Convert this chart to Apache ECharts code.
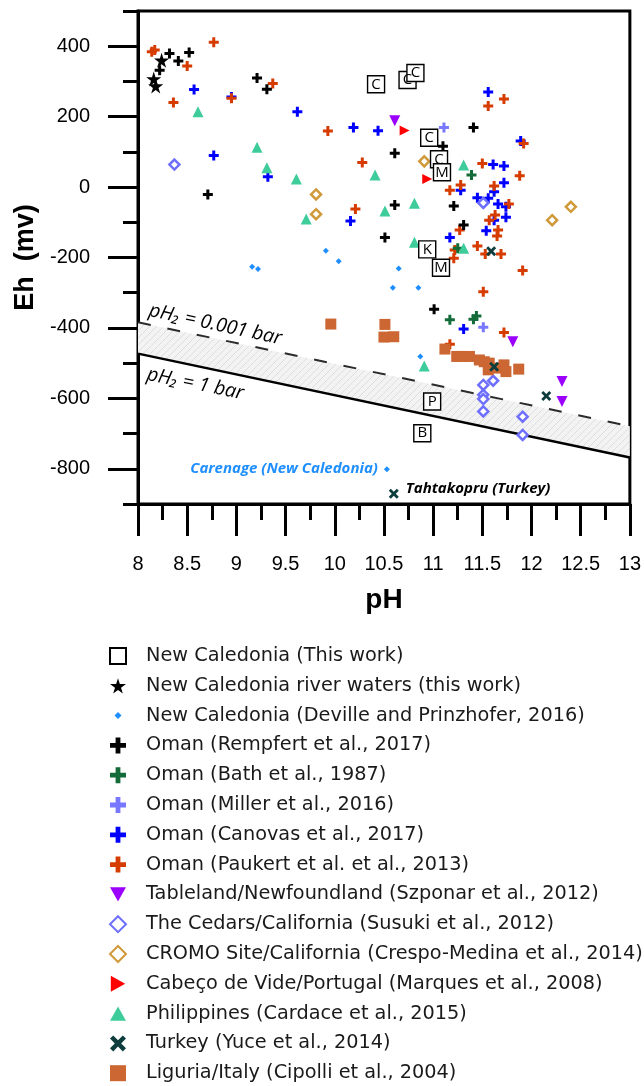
<!DOCTYPE html>
<html>
<head>
<meta charset="utf-8">
<script src="https://cdn.jsdelivr.net/npm/echarts@6/dist/echarts.min.js"></script>
<style>
html, body { margin: 0; padding: 0; background: #fff; }
#chart { width: 644px; height: 1086px; }
</style>
</head>
<body>
<div id="chart"></div>
<script>
// [pH, Eh (mV)]
const thisWork = [
    [10.42, 292, 'C'], [10.74, 304, 'C'], [10.82, 324, 'C'],
    [10.96, 140, 'C'], [11.06, 79, 'C'], [11.09, 42, 'M'],
    [10.94, -177, 'K'], [11.08, -229, 'M'],
    [10.99, -609, 'P'], [10.89, -699, 'B'],
];
const riverWaters = [[8.24, 360], [8.16, 307], [8.18, 287]];
const deville = [
    [9.16, -226], [9.22, -233], [9.91, -181], [10.04, -211], [10.65, -231],
    [10.59, -286], [10.85, -286], [10.87, -481],
];
const carenage = [10.53, -801];
const rempfert = [
    [8.32, 379], [8.52, 382], [8.41, 358], [8.22, 332], [9.21, 310], [9.31, 278],
    [8.71, -21], [10.61, 96], [11.10, 116], [11.41, 169], [11.21, -54], [11.31, -108],
    [10.51, -143], [10.61, -51], [11.01, -347],
];
const bath = [[11.39, 34], [11.25, -174], [11.17, -377], [11.44, -366], [11.41, -375]];
const miller = [[11.11, 169], [11.51, -398]];
const canovas = [
    [8.57, 277], [8.95, 256], [9.62, 214], [8.77, 90], [9.32, 29], [10.19, 169],
    [10.44, 160], [10.16, -96], [11.56, 270], [11.89, 131], [11.61, 64], [11.72, 60],
    [11.72, 12], [11.28, -9], [11.62, -13], [11.45, -30], [11.56, -32], [11.66, -48],
    [11.74, -56], [11.74, -86], [11.62, -94], [11.54, -124], [11.17, -143], [11.31, -403],
];
const paukert = [
    [8.14, 384], [8.17, 389], [8.77, 411], [8.50, 344], [9.37, 294], [8.36, 240],
    [8.95, 252], [9.93, 159], [10.28, 70], [10.21, -62], [11.50, 67], [11.88, 32],
    [11.92, 124], [11.56, 230], [11.72, 250], [11.28, 6], [11.17, -9], [11.62, 3],
    [11.77, -48], [11.66, -122], [11.65, -139], [11.27, -122], [11.45, -167],
    [11.53, -190], [11.69, -190], [11.57, -94], [11.63, -79], [11.91, -237],
    [11.51, -297], [11.21, -202], [11.22, -179], [11.17, -446], [11.72, -413],
];
const tableland = [[10.61, 188], [11.81, -439], [12.31, -552], [12.31, -609]];
const cedars = [
    [8.37, 64], [11.51, -45], [11.51, -562], [11.61, -550], [11.51, -590],
    [11.51, -602], [11.51, -637], [11.91, -652], [11.91, -704],
];
const cromo = [[10.91, 73], [9.81, -21], [9.81, -77], [12.40, -56], [12.21, -94]];
const cabeco = [[10.71, 161], [10.94, 23]];
const philippines = [
    [8.61, 214], [9.21, 113], [9.31, 55], [9.61, 23], [9.71, -91], [10.41, 34],
    [10.51, -68], [10.81, -46], [10.81, -157], [11.31, 63], [11.31, -174], [10.91, -508],
];
const turkey = [[11.59, -182], [11.62, -510], [12.15, -593]];
const tahtakopru = [10.60, -871];
const liguria = [
    [9.96, -389], [10.51, -390], [10.50, -426], [10.60, -425], [11.12, -460],
    [11.24, -481], [11.29, -481], [11.37, -481], [11.47, -491], [11.52, -496],
    [11.57, -500], [11.56, -519], [11.66, -514], [11.72, -505], [11.74, -524],
    [11.87, -517],
];
// H2 equilibrium lines
const h2OneBar = [[8, -473], [13, -768]];
const h2MilliBar = [[8, -384], [13, -679]];

const yMajorTicks = [-800, -600, -400, -200, 0, 200, 400];

const PLUS = 'path://M3.5,0H6.5V3.5H10V6.5H6.5V10H3.5V6.5H0V3.5H3.5Z';
const CROSS = 'path://M0,2L2,0L5,3L8,0L10,2L7,5L10,8L8,10L5,7L2,10L0,8L3,5Z';
const STAR = 'path://M50,0L61,35L98,35L68,57L79,91L50,70L21,91L32,57L2,35L39,35Z';
const TRI_DOWN = 'path://M0,0L10,0L5,9Z';
const TRI_RIGHT = 'path://M0,0L9,5L0,10Z';
const TRI_UP = 'path://M5,0L10,9L0,9Z';
const FONT = 'Liberation Sans';
const LEGEND_FONT = 'DejaVu Sans';
const NOTE_FONT = 'Open Sans';

// light hatch for the band between the two H2 lines
function hatch() {
    const c = document.createElement('canvas');
    c.width = 7; c.height = 7;
    const g = c.getContext('2d');
    g.fillStyle = '#f3f3f3';
    g.fillRect(0, 0, 7, 7);
    g.strokeStyle = '#dedede';
    g.lineWidth = 1;
    g.beginPath();
    g.moveTo(-1, 8); g.lineTo(8, -1);
    g.stroke();
    return { image: c, repeat: 'repeat' };
}

function scatter(name, data, symbol, size, color, extra) {
    return Object.assign({
        name,
        type: 'scatter',
        data,
        symbol,
        symbolSize: size,
        itemStyle: { color, opacity: 1 },
    }, extra || {});
}

const chart = echarts.init(document.getElementById('chart'));
const bandFill = hatch();

const option = {
    animation: false,
    grid: {
        left: 138, right: 11, top: 11, bottom: 582,
        show: true, borderColor: '#000', borderWidth: 3,
    },
    xAxis: [
        {
            type: 'value', min: 8, max: 13, interval: 0.5, position: 'bottom',
            name: 'pH', nameLocation: 'middle', nameGap: 82,
            nameTextStyle: { fontFamily: FONT, fontWeight: 'bold', fontSize: 28, color: '#000' },
            axisLine: { onZero: false, lineStyle: { color: '#000', width: 3 } },
            axisTick: { inside: false, length: 32, lineStyle: { color: '#000', width: 3 } },
            axisLabel: { margin: 50, fontFamily: FONT, fontSize: 20, color: '#000' },
            splitLine: { show: false },
        },
        {
            type: 'value', min: 8, max: 13, interval: 0.25, position: 'bottom',
            axisLine: { show: false, onZero: false },
            axisTick: { length: 16, lineStyle: { color: '#000', width: 3 } },
            axisLabel: { show: false },
            splitLine: { show: false },
        },
    ],
    yAxis: [
        {
            type: 'value', min: -900, max: 500, position: 'left',
            name: 'Eh  (mv)', nameLocation: 'middle', nameGap: 97,
            nameTextStyle: { fontFamily: FONT, fontWeight: 'bold', fontSize: 27, color: '#000' },
            axisLine: { onZero: false, lineStyle: { color: '#000', width: 3 } },
            axisTick: { customValues: yMajorTicks, length: 30, lineStyle: { color: '#000', width: 3 } },
            axisLabel: { customValues: yMajorTicks, margin: 48, fontFamily: FONT, fontSize: 20, color: '#000' },
            splitLine: { show: false },
        },
        {
            type: 'value', min: -900, max: 500, interval: 100, position: 'left',
            axisLine: { show: false, onZero: false },
            axisTick: { length: 15, lineStyle: { color: '#000', width: 3 } },
            axisLabel: { show: false },
            splitLine: { show: false },
        },
    ],
    legend: {
        orient: 'vertical',
        left: 109,
        top: 646,
        padding: 0,
        itemWidth: 16,
        itemHeight: 16,
        itemGap: 9.8,
        selectedMode: false,
        textStyle: {
            fontFamily: LEGEND_FONT, fontSize: 19.3, lineHeight: 20, height: 20,
            color: '#1a1a1a', padding: [0, 0, 0, 15],
        },
        data: [
            'New Caledonia (This work)',
            'New Caledonia river waters (this work)',
            { name: 'New Caledonia (Deville and Prinzhofer, 2016)', icon: 'path://M0,0M16,16M8,4.5L11.5,8L8,11.5L4.5,8Z' },
            'Oman (Rempfert et al., 2017)',
            'Oman (Bath et al., 1987)',
            'Oman (Miller et al., 2016)',
            'Oman (Canovas et al., 2017)',
            'Oman (Paukert et al. et al., 2013)',
            'Tableland/Newfoundland (Szponar et al., 2012)',
            'The Cedars/California (Susuki et al., 2012)',
            'CROMO Site/California (Crespo-Medina et al., 2014)',
            'Cabeço de Vide/Portugal (Marques et al., 2008)',
            'Philippines (Cardace et al., 2015)',
            'Turkey (Yuce et al., 2014)',
            'Liguria/Italy (Cipolli et al., 2004)',
        ],
    },
    series: [
        {
            name: 'band',
            type: 'custom',
            silent: true,
            z: 1,
            data: [0],
            renderItem: (params, api) => {
                const pts = h2MilliBar.map((p) => api.coord(p))
                    .concat(h2OneBar.slice().reverse().map((p) => api.coord(p)));
                return { type: 'polygon', shape: { points: pts }, style: { fill: bandFill } };
            },
        },
        {
            name: 'pH2 = 0.001 bar',
            type: 'line',
            data: h2MilliBar,
            symbol: 'none',
            silent: true,
            z: 2,
            lineStyle: { color: '#2b2b2b', width: 2, type: [13, 17] },
        },
        {
            name: 'pH2 = 1 bar',
            type: 'line',
            data: h2OneBar,
            symbol: 'none',
            silent: true,
            z: 2,
            lineStyle: { color: '#000', width: 2.5 },
        },
        scatter('New Caledonia (Deville and Prinzhofer, 2016)',
            deville.concat([{
                value: carenage,
                label: {
                    show: true, position: 'left', distance: 6,
                    formatter: 'Carenage (New Caledonia)',
                    fontFamily: NOTE_FONT, fontStyle: 'italic', fontWeight: 'bold',
                    fontSize: 15, color: '#1f8fff',
                },
            }]), 'diamond', 6, '#1f8fff'),
        scatter('Oman (Canovas et al., 2017)', canovas, PLUS, 10, '#0000ff'),
        scatter('Oman (Paukert et al. et al., 2013)', paukert, PLUS, 10, '#d63c00'),
        scatter('Oman (Rempfert et al., 2017)', rempfert, PLUS, 10, '#000000'),
        scatter('Oman (Bath et al., 1987)', bath, PLUS, 10, '#136b3a'),
        scatter('Oman (Miller et al., 2016)', miller, PLUS, 10, '#7777ff'),
        scatter('Tableland/Newfoundland (Szponar et al., 2012)', tableland, TRI_DOWN, 11, '#9b00ff'),
        scatter('The Cedars/California (Susuki et al., 2012)', cedars, 'diamond', 10, '#ffffff',
            { itemStyle: { color: '#ffffff', borderColor: '#6f6fff', borderWidth: 2.5, opacity: 1 } }),
        scatter('CROMO Site/California (Crespo-Medina et al., 2014)', cromo, 'diamond', 10, '#ffffff',
            { itemStyle: { color: '#ffffff', borderColor: '#d09a3a', borderWidth: 2.5, opacity: 1 } }),
        scatter('Cabeço de Vide/Portugal (Marques et al., 2008)', cabeco, TRI_RIGHT, 10, '#ff0000'),
        scatter('Philippines (Cardace et al., 2015)', philippines, TRI_UP, 11, '#3dcc9a'),
        scatter('Liguria/Italy (Cipolli et al., 2004)', liguria, 'rect', 11, '#cc6633'),
        scatter('Turkey (Yuce et al., 2014)',
            turkey.concat([{
                value: tahtakopru,
                label: {
                    show: true, position: 'right', distance: 7, offset: [0, -5],
                    formatter: 'Tahtakopru (Turkey)',
                    fontFamily: NOTE_FONT, fontStyle: 'italic', fontWeight: 'bold',
                    fontSize: 15, color: '#000',
                },
            }]), CROSS, 10, '#0d3d3d'),
        scatter('New Caledonia river waters (this work)', riverWaters, STAR, 15, '#000000'),
        scatter('New Caledonia (This work)', thisWork, 'rect', 17, '#ffffff', {
            z: 5,
            itemStyle: { color: '#ffffff', borderColor: '#000', borderWidth: 1.4, opacity: 1 },
            label: {
                show: true, position: 'inside',
                formatter: (p) => p.value[2],
                fontFamily: NOTE_FONT, fontSize: 15, color: '#000',
            },
        }),
    ],
    graphic: [
        {
            type: 'text', x: 147, y: 320, rotation: -0.2137,
            style: {
                text: 'pH₂ = 0.001 bar', fill: '#000',
                font: 'italic 19.5px "Open Sans"', verticalAlign: 'bottom',
            },
        },
        {
            type: 'text', x: 145, y: 384, rotation: -0.2,
            style: {
                text: 'pH₂ = 1 bar', fill: '#000',
                font: 'italic 19.5px "Open Sans"', verticalAlign: 'bottom',
            },
        },
    ],
};

chart.setOption(option);
</script>
</body>
</html>
